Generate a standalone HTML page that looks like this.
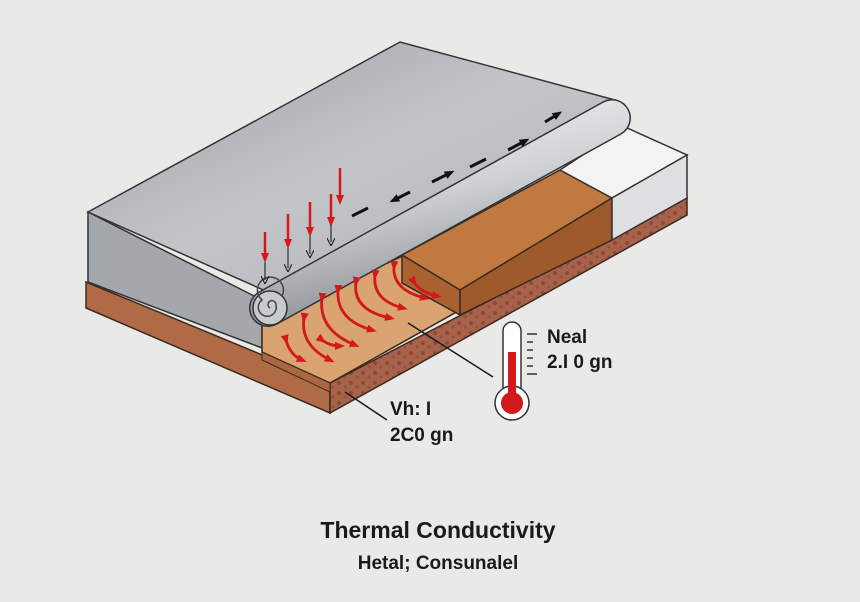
<!DOCTYPE html>
<html><head><meta charset="utf-8"><style>
html,body{margin:0;padding:0;background:#e9e9e8;}
svg{display:block}
text{font-family:"Liberation Sans",sans-serif;font-weight:bold;fill:#1a1a1a}
</style></head><body>
<svg width="860" height="602" viewBox="0 0 860 602" xmlns="http://www.w3.org/2000/svg">
<defs>
<linearGradient id="top" x1="0" y1="0" x2="1" y2="1">
<stop offset="0" stop-color="#9a9ea3"/><stop offset="0.5" stop-color="#c3c6c9"/><stop offset="1" stop-color="#a9adb1"/></linearGradient>
<linearGradient id="roll" x1="0" y1="0" x2="0.4" y2="1">
<stop offset="0" stop-color="#f4f5f6"/><stop offset="0.5" stop-color="#cfd2d4"/><stop offset="1" stop-color="#8d9195"/></linearGradient>
<pattern id="dots" width="12" height="10" patternUnits="userSpaceOnUse">
<rect width="12" height="10" fill="#a8624a"/><circle cx="3" cy="3" r="2" fill="#8a4a38"/><circle cx="9" cy="7" r="1.6" fill="#93523f"/></pattern>
<marker id="rh" markerUnits="userSpaceOnUse" markerWidth="10" markerHeight="10" refX="5" refY="5" orient="auto"><path d="M0,1L10,5L0,9z" fill="#d3191c"/></marker>
<marker id="kh" markerUnits="userSpaceOnUse" markerWidth="10" markerHeight="10" refX="5" refY="5" orient="auto"><path d="M0,1L10,5L0,9z" fill="#111"/></marker>
<marker id="th" markerUnits="userSpaceOnUse" markerWidth="8" markerHeight="8" refX="4" refY="4" orient="auto"><path d="M0,0L8,4L0,8" fill="none" stroke="#111" stroke-width="1"/></marker>
</defs>
<polygon points="86,282 330,383 330,413 86,308" fill="#b06a45" stroke="#3a2a20" stroke-width="1.5"/>
<polygon points="330,383 687,198 687,215 330,413" fill="url(#dots)" stroke="#3a2a20" stroke-width="1.5"/>
<polygon points="88,212 262,300 262,348 88,282" fill="#a4a8ac" stroke="#333" stroke-width="1.5"/>
<polygon points="262,320 405,255 460,290 460,310 330,383 262,352" fill="#d9a372" stroke="#3a2a20" stroke-width="1.5"/>
<polygon points="262,352 330,383 330,392 262,360" fill="#a9683f" stroke="#3a2a20" stroke-width="1"/>
<polygon points="402,255 560,170 612,198 460,290" fill="#c07a40" stroke="#3a2a20" stroke-width="1.5"/>
<polygon points="402,255 460,290 460,315 402,283" fill="#a9622f" stroke="#3a2a20" stroke-width="1.5"/>
<polygon points="460,290 612,198 612,240 460,315" fill="#9e5a2a" stroke="#3a2a20" stroke-width="1.5"/>
<polygon points="560,170 625,127 687,155 612,198" fill="#f3f3f3" stroke="#333" stroke-width="1.5"/>
<polygon points="612,198 687,155 687,198 612,240" fill="#dedfe0" stroke="#333" stroke-width="1.5"/>
<polygon points="88,212 400,42 615,100 268,292" fill="url(#top)" stroke="#333" stroke-width="1.5"/>
<line x1="268" y1="308" x2="612" y2="118" stroke="#333" stroke-width="38" stroke-linecap="round"/>
<line x1="268" y1="308" x2="612" y2="118" stroke="url(#roll)" stroke-width="35" stroke-linecap="round"/>
<circle cx="270" cy="308" r="17" fill="#c8cbce" stroke="#333" stroke-width="1.5"/>
<path d="M270,308 a4,4 0 1 1 6,-3 a9,9 0 1 1 -14,-5 a13,13 0 1 1 20,-4" fill="none" stroke="#444" stroke-width="1.5"/>
<g stroke="#d3191c" stroke-width="2.5" marker-end="url(#rh)">
<line x1="265" y1="232" x2="265" y2="258"/><line x1="288" y1="214" x2="288" y2="244"/>
<line x1="310" y1="202" x2="310" y2="232"/><line x1="331" y1="194" x2="331" y2="222"/>
<line x1="340" y1="168" x2="340" y2="200"/></g>
<g stroke="#111" stroke-width="1" marker-end="url(#th)"><line x1="265" y1="262" x2="265" y2="280"/><line x1="288" y1="248" x2="288" y2="268"/><line x1="310" y1="236" x2="310" y2="254"/><line x1="331" y1="225" x2="331" y2="242"/></g>
<g stroke="#111" stroke-width="3">
<line x1="352" y1="216" x2="368" y2="208"/><line x1="410" y1="192" x2="394" y2="200" marker-end="url(#kh)"/>
<line x1="432" y1="182" x2="450" y2="173" marker-end="url(#kh)"/><line x1="470" y1="167" x2="486" y2="159"/>
<line x1="508" y1="150" x2="525" y2="141" marker-end="url(#kh)"/><line x1="545" y1="122" x2="558" y2="114" marker-end="url(#kh)"/></g>
<g fill="none" stroke="#d3191c" stroke-width="2.8" marker-end="url(#rh)" marker-start="url(#rh)">
<path d="M286,340 Q290,355 302,360"/><path d="M304,318 Q300,345 330,360"/><path d="M322,298 Q318,330 355,345"/>
<path d="M338,290 Q336,320 372,330"/><path d="M356,282 Q352,310 390,318"/><path d="M375,275 Q372,300 403,308"/>
<path d="M394,266 Q392,290 425,298"/><path d="M414,282 Q420,292 437,296"/><path d="M322,340 Q330,346 340,346"/></g>
<line x1="408" y1="323" x2="493" y2="377" stroke="#1a1a1a" stroke-width="1.5"/>
<line x1="345" y1="392" x2="387" y2="420" stroke="#1a1a1a" stroke-width="1.5"/>
<rect x="503" y="322" width="18" height="80" rx="9" fill="#fff" stroke="#333" stroke-width="1.5"/>
<circle cx="512" cy="403" r="17" fill="#fff" stroke="#333" stroke-width="1.5"/>
<circle cx="512" cy="403" r="11" fill="#d3191c"/>
<rect x="508" y="352" width="8" height="50" fill="#d3191c"/>
<g stroke="#333" stroke-width="1.5"><line x1="527" y1="334" x2="537" y2="334"/><line x1="527" y1="342" x2="533" y2="342"/><line x1="527" y1="350" x2="533" y2="350"/><line x1="527" y1="358" x2="533" y2="358"/><line x1="527" y1="366" x2="533" y2="366"/><line x1="527" y1="374" x2="537" y2="374"/></g>
<text x="547" y="343" font-size="19">Neal</text>
<text x="547" y="368" font-size="19">2.I 0 gn</text>
<text x="390" y="415" font-size="19">Vh: I</text>
<text x="390" y="441" font-size="19">2C0 gn</text>
<text x="438" y="538" font-size="23" text-anchor="middle">Thermal Conductivity</text>
<text x="438" y="569" font-size="19" text-anchor="middle">Hetal; Consunalel</text>
</svg>
</body></html>
